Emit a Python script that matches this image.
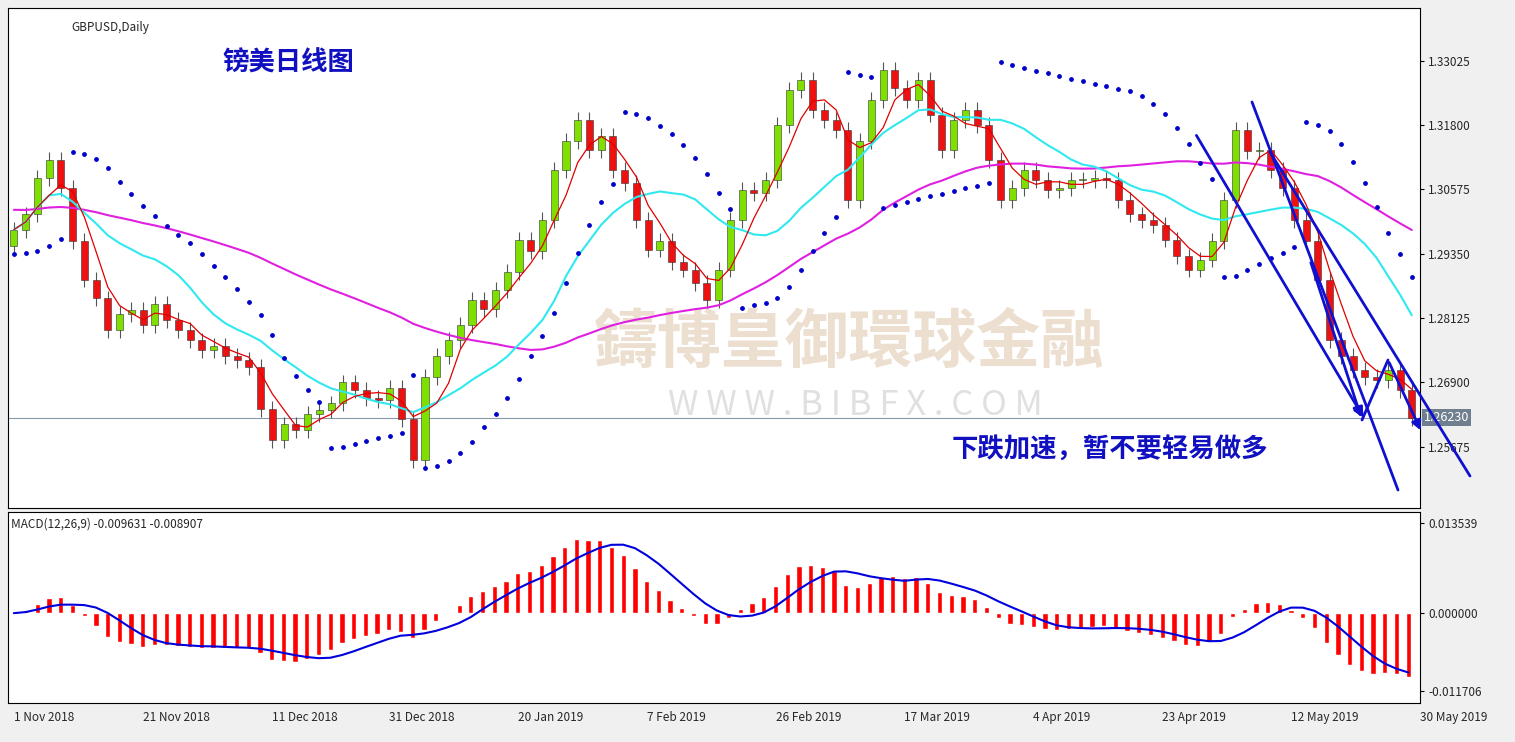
import numpy as np, pandas as pd, matplotlib
matplotlib.use("Agg")
import matplotlib.pyplot as plt, seaborn as sns
from matplotlib.lines import Line2D

closes = [1.2981,1.3010,1.3080,1.3114,1.3060,1.2960,1.2886,1.2850,1.2790,1.2820,
1.2828,1.2800,1.2840,1.2809,1.2790,1.2770,1.2752,1.2760,1.2740,1.2733,
1.2720,1.2640,1.2581,1.2610,1.2600,1.2630,1.2638,1.2650,1.2690,1.2676,
1.2660,1.2657,1.2680,1.2620,1.2543,1.2700,1.2740,1.2771,1.2800,1.2847,
1.2830,1.2866,1.2900,1.2962,1.2940,1.3000,1.3095,1.3150,1.3190,1.3133,
1.3160,1.3095,1.3070,1.3000,1.2943,1.2960,1.2920,1.2905,1.2880,1.2847,
1.2905,1.3000,1.3057,1.3050,1.3076,1.3180,1.3247,1.3266,1.3209,1.3190,
1.3171,1.3038,1.3150,1.3228,1.3285,1.3250,1.3228,1.3266,1.3200,1.3133,
1.3190,1.3209,1.3180,1.3114,1.3038,1.3060,1.3095,1.3076,1.3057,1.3060,
1.3076,1.3076,1.3080,1.3076,1.3038,1.3010,1.3000,1.2990,1.2962,1.2930,
1.2905,1.2924,1.2960,1.3038,1.3171,1.3130,1.3133,1.3095,1.3060,1.3000,
1.2960,1.2886,1.2771,1.2740,1.2714,1.2700,1.2695,1.2714,1.2676,1.2623]
first_open = 1.2950
wicks = [0.0015]*len(closes)
tick_pos = [0,11,22,32,43,54,65,76,87,98,109,120]
tick_labels = ["1 Nov 2018","21 Nov 2018","11 Dec 2018","31 Dec 2018","20 Jan 2019","7 Feb 2019",
               "26 Feb 2019","17 Mar 2019","4 Apr 2019","23 Apr 2019","12 May 2019","30 May 2019"]
price_ticks = [1.33025,1.31800,1.30575,1.29350,1.28125,1.26900,1.25675]

c = np.array(closes); n = len(c); x = np.arange(n)
o = np.concatenate([[first_open], c[:-1]])
w = np.array(wicks)
hi = np.maximum(o, c) + w; lo = np.minimum(o, c) - w
s = pd.Series(c)
ma_r = s.rolling(4, min_periods=1).mean()
ma_c = s.rolling(13, min_periods=1).mean()
ma_m = pd.Series(np.concatenate([[1.302]*30, c])).rolling(40, min_periods=1).mean().values[30:]
ema = lambda p: s.ewm(span=p, adjust=False).mean()
macd = ema(8) - ema(17)
sig = macd.rolling(6, min_periods=1).mean()

sar = np.zeros(n); up = True; af = 0.02; ep = hi[0]; sar[0] = lo[0]
for i in range(1, n):
    sv = sar[i-1] + af*(ep - sar[i-1])
    if up:
        if lo[i] < sv: up = False; sv = ep; ep = lo[i]; af = 0.02
        elif hi[i] > ep: ep = hi[i]; af = min(af+0.02, 0.2)
    else:
        if hi[i] > sv: up = True; sv = ep; ep = hi[i]; af = 0.02
        elif lo[i] < ep: ep = lo[i]; af = min(af+0.02, 0.2)
    sar[i] = sv

sns.set_style("white")
plt.rcParams['font.family'] = ['Noto Sans CJK SC', 'DejaVu Sans']
fig = plt.figure(figsize=(15.15, 7.42), dpi=100, facecolor="#f0f0f0")
ax = fig.add_axes([8/1515, 234/742, 1412/1515, 500/742])
ax2 = fig.add_axes([8/1515, 39/742, 1412/1515, 191/742])
for a in (ax, ax2):
    a.set_facecolor("white")
    for sp in a.spines.values(): sp.set_color("black"); sp.set_linewidth(0.8)
    a.set_xlim(-0.5, n - 0.3)
    a.yaxis.tick_right()
    a.tick_params(axis='both', labelsize=8.5, length=3, color='black', pad=3)

ax.text(0.596, 0.33, "鑄博皇御環球金融", transform=ax.transAxes, fontsize=46, color="#eddfcf",
        ha="center", va="center", fontweight="bold", zorder=0)
ax.text(0.60, 0.205, "W W W . B I B F X . C O M", transform=ax.transAxes, fontsize=25, color="#e0e0e0",
        ha="center", va="center", zorder=0)

for i in range(n):
    col = "#7fe000" if c[i] >= o[i] else "#ee1111"
    ax.vlines(x[i], lo[i], hi[i], color="#555555", lw=0.8, zorder=2)
    ax.bar(x[i], max(abs(c[i]-o[i]), 0.0002), bottom=min(o[i], c[i]), width=0.6,
           color=col, edgecolor="#333333", lw=0.4, zorder=3)
sns.lineplot(x=x, y=ma_m, ax=ax, color="#e020e0", lw=1.5, zorder=4)
sns.lineplot(x=x, y=ma_c.values, ax=ax, color="#30e8f0", lw=1.5, zorder=4)
sns.lineplot(x=x, y=ma_r.values, ax=ax, color="#e00000", lw=0.9, zorder=5)
ax.scatter(x, sar, s=6, color="#0000cc", zorder=5)
ax.axhline(c[-1], color="#8899aa", lw=0.8, zorder=1)
ax.set_ylim(1.2451, 1.3403)
ax.set_yticks(price_ticks); ax.set_yticklabels([f"{v:.5f}" for v in price_ticks])
ax.set_xticks([])
ax.text(1.003, c[-1], f"{c[-1]:.5f}", transform=ax.get_yaxis_transform(), fontsize=9, color="white",
        va="center", ha="left", bbox=dict(boxstyle="square,pad=0.15", fc="#6f7f8f", ec="none"))
ax.text(0.045, 0.975, "GBPUSD,Daily", transform=ax.transAxes, fontsize=8.5, va="top")
ax.text(0.152, 0.89, "镑美日线图", transform=ax.transAxes, fontsize=19, color="#1010c0",
        fontweight="bold", va="center")
ax.text(0.668, 0.115, "下跌加速，暂不要轻易做多", transform=ax.transAxes, fontsize=19, color="#1010c0",
        fontweight="bold", va="center")

def fl(x1, y1, x2, y2, arrow=False):
    p1 = (x1/1515, 1-y1/742); p2 = (x2/1515, 1-y2/742)
    if arrow:
        fig.add_artist(matplotlib.patches.FancyArrowPatch(p1, p2, transform=fig.transFigure,
            arrowstyle="-|>", mutation_scale=14, color="#1010d0", lw=2))
    else:
        fig.add_artist(Line2D([p1[0], p2[0]], [p1[1], p2[1]], transform=fig.transFigure, color="#1010d0", lw=2))
fl(1195, 133, 1365, 420, True)
fl(1252, 102, 1398, 490)
fl(1270, 152, 1470, 476)
fl(1310, 260, 1362, 420, True)
fl(1362, 420, 1388, 360)
fl(1388, 360, 1422, 433, True)

ax2.bar(x, macd.values, width=0.45, color="#ff0000", zorder=2)
sns.lineplot(x=x, y=sig.values, ax=ax2, color="#0000dd", lw=1.5, zorder=3)
ax2.set_ylim(-0.0135, 0.0152)
yt = [0.013539, 0.0, -0.011706]
ax2.set_yticks(yt); ax2.set_yticklabels([f"{v:.6f}" for v in yt])
ax2.set_xticks(tick_pos); ax2.set_xticklabels(tick_labels, ha="left")
ax2.text(0.002, 0.97, f"MACD(12,26,9) {macd.values[-1]:.6f} {sig.values[-1]:.6f}",
         transform=ax2.transAxes, fontsize=8.5, va="top")
fig.savefig("out.png", dpi=100, facecolor=fig.get_facecolor())
